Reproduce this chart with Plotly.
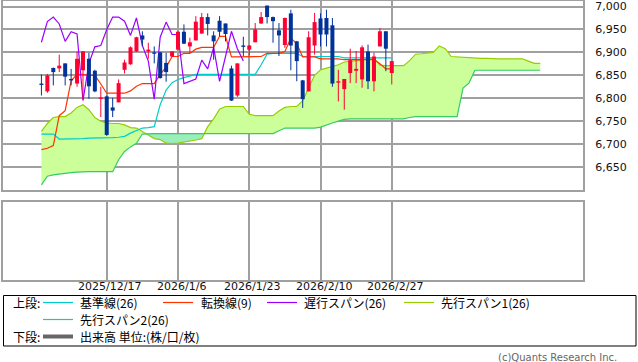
import plotly.graph_objects as go

# ---------------- data ----------------
tick_idx = [11, 23, 35, 47, 59]
tick_labels = ["2025/12/17", "2026/1/6", "2026/1/23", "2026/2/10", "2026/2/27"]
y_ticks = [6650, 6700, 6750, 6800, 6850, 6900, 6950, 7000]

open_ = [6832, 6815, 6866, 6865, 6876, 6842, 6832, 6861, 6886, 6860,
         6799, 6804, 6780, 6791, 6862, 6874, 6902, 6937, 6902, 6900,
         6900, 6877, 6891, 6906, 6945, 6913, 6926, 6941, 6977, 6937,
         6969, 6963, 6865, 6806, 6915, 6906, 6922, 6963, 7002, 6977,
         6948, 6916, 6985, 6924, 6839, 6815, 6915, 6974, 6975, 6959,
         6834, 6820, 6855, 6860, 6841, 6902, 6837, 6913, 6946, 6855]
high = [6852, 6853, 6867, 6895, 6876, 6864, 6902, 6903, 6899, 6862,
        6825, 6806, 6801, 6841, 6884, 6913, 6934, 6946, 6921, 6913,
        6901, 6899, 6903, 6946, 6961, 6932, 6979, 6986, 6985, 6946,
        6979, 6963, 6871, 6876, 6934, 6916, 6964, 6988, 7002, 6978,
        6964, 6976, 6993, 6925, 6840, 6946, 6986, 6985, 6993, 6975,
        6862, 6842, 6908, 6903, 6915, 6917, 6899, 6953, 6946, 6881]
low = [6806, 6812, 6828, 6857, 6828, 6828, 6825, 6797, 6799, 6813,
       6759, 6718, 6759, 6791, 6854, 6873, 6901, 6913, 6886, 6876,
       6843, 6836, 6890, 6905, 6918, 6899, 6926, 6941, 6937, 6884,
       6935, 6924, 6794, 6803, 6892, 6893, 6922, 6962, 6963, 6921,
       6892, 6910, 6861, 6837, 6779, 6815, 6895, 6913, 6913, 6825,
       6793, 6775, 6833, 6833, 6823, 6820, 6815, 6913, 6859, 6830]
close = [6829, 6850, 6857, 6871, 6847, 6839, 6886, 6902, 6826, 6815,
         6801, 6720, 6773, 6833, 6878, 6911, 6933, 6928, 6906, 6897,
         6844, 6857, 6902, 6945, 6919, 6922, 6967, 6977, 6962, 6924,
         6945, 6940, 6795, 6876, 6912, 6915, 6950, 6977, 6977, 6968,
         6937, 6975, 6915, 6881, 6798, 6933, 6966, 6939, 6939, 6832,
         6837, 6842, 6883, 6864, 6911, 6837, 6891, 6946, 6908, 6881]

# 転換線(9)
tenkan = [6688, 6691, 6697, 6762, 6773, 6838, 6852, 6852, 6850, 6850,
          6831, 6811, 6811, 6811, 6811, 6816, 6826, 6832, 6832, 6832,
          6852, 6868, 6891, 6891, 6898, 6898, 6907, 6911, 6911, 6911,
          6935, 6935, 6890, 6890, 6890, 6890, 6890, 6891, 6898, 6898,
          6898, 6902, 6931, 6919, 6890, 6890, 6890, 6886, 6886, 6886,
          6886, 6884, 6884, 6884, 6884, 6884, 6884, 6875, 6864, 6864]
# 基準線(26)
kijun = [6722, 6722, 6722, 6711, 6711, 6712, 6712, 6712, 6713, 6713,
         6713, 6714, 6714, 6715, 6717, 6724, 6730, 6735, 6736, 6738,
         6786, 6818, 6834, 6841, 6845, 6848, 6852, 6852, 6852, 6852,
         6852, 6852, 6852, 6852, 6852, 6852, 6852, 6873, 6896, 6898,
         6898, 6898, 6898, 6898, 6891, 6891, 6891, 6891, 6891, 6891,
         6891, 6888, 6888, 6888, 6888, 6888, 6888, 6888, 6888, 6888]
# 遅行スパン(26): closes plotted 25 bars back
lag_shift = 25
lagging = close[lag_shift:]
# 先行スパン1(26)
span1 = [6728, 6745, 6758, 6760, 6760, 6768, 6780, 6786, 6775, 6758,
         6750, 6746, 6745, 6745, 6742, 6736, 6735, 6728, 6720, 6712,
         6710, 6702, 6701, 6702, 6704, 6706, 6709, 6712, 6738, 6755,
         6776, 6782, 6782, 6782, 6782, 6765, 6762, 6762, 6762, 6762,
         6772, 6780, 6782, 6782, 6795, 6822, 6850, 6862, 6866, 6869,
         6873, 6879, 6881, 6882, 6882, 6888, 6888, 6872, 6871, 6871,
         6871, 6871, 6882, 6896, 6897, 6898, 6900, 6914, 6908, 6891,
         6890, 6889, 6888, 6888, 6887, 6887, 6886, 6886, 6886, 6886,
         6886, 6886, 6881, 6876, 6876]
# 先行スパン2(26)
span2 = [6611, 6630, 6633, 6635, 6637, 6638, 6639, 6640, 6640, 6640,
         6640, 6640, 6640, 6666, 6684, 6694, 6702, 6722, 6723, 6723,
         6723, 6723, 6723, 6723, 6723, 6723, 6723, 6723, 6723, 6723,
         6723, 6723, 6723, 6723, 6723, 6723, 6723, 6723, 6723, 6723,
         6729, 6735, 6735, 6735, 6735, 6735, 6735, 6737, 6742, 6746,
         6750, 6754, 6755, 6755, 6755, 6755, 6755, 6755, 6755, 6755,
         6755, 6755, 6758, 6760, 6760, 6760, 6760, 6760, 6760, 6760,
         6760, 6822, 6833, 6861, 6861, 6861, 6861, 6861, 6861, 6861,
         6861, 6861, 6861, 6861, 6861]

# ---------------- styles ----------------
W, H = 638, 362
C_UP, C_DN = "#ff0033", "#003399"
C_KIJUN, C_TENKAN, C_LAG = "#00cccc", "#ff3300", "#9900ff"
C_S1, C_S2 = "#99cc00", "#33cc66"
FILL_UP, FILL_DN = "#ccff99", "#99eebb"
GRID = "#a0a0a0"


def px(x):
    return x / W


def py(y):
    return 1 - y / H


fig = go.Figure()

# ---- cloud (split at crossings so each side gets its own colour) ----
cx = list(range(len(span1)))
X, A, B = [], [], []
for i in range(len(cx)):
    X.append(cx[i]); A.append(span1[i]); B.append(span2[i])
    if i < len(cx) - 1:
        d0 = span1[i] - span2[i]
        d1 = span1[i + 1] - span2[i + 1]
        if d0 * d1 < 0:
            t = d0 / (d0 - d1)
            yc = span1[i] + t * (span1[i + 1] - span1[i])
            X.append(cx[i] + t); A.append(yc); B.append(yc)
U = [max(a, b) for a, b in zip(A, B)]

common = dict(mode="lines", hoverinfo="skip", showlegend=False, line=dict(width=0))
fig.add_trace(go.Scatter(x=X, y=B, **common))
fig.add_trace(go.Scatter(x=X, y=U, fill="tonexty", fillcolor=FILL_UP, **common))
fig.add_trace(go.Scatter(x=X, y=A, **common))
fig.add_trace(go.Scatter(x=X, y=U, fill="tonexty", fillcolor=FILL_DN, **common))


# ---- lines ----
def line(x, y, color, w=1.2):
    fig.add_trace(go.Scatter(x=x, y=y, mode="lines", hoverinfo="skip", showlegend=False,
                             line=dict(color=color, width=w)))


line(cx, span1, C_S1)
line(cx, span2, C_S2)
n = len(close)
line(list(range(n)), kijun, C_KIJUN)
line(list(range(n)), tenkan, C_TENKAN)
line(list(range(len(lagging))), lagging, C_LAG)

# ---- candles (wicks + bodies as scatter segments so they sit above the cloud) ----
for up in (True, False):
    wx, wy, bx, by = [], [], [], []
    for i in range(n):
        if (close[i] >= open_[i]) == up:
            wx += [i, i, None]
            wy += [low[i], high[i], None]
            lo, hi = min(open_[i], close[i]), max(open_[i], close[i])
            if hi - lo < 3:
                mid = (hi + lo) / 2
                lo, hi = mid - 1.5, mid + 1.5
            bx += [i, i, None]
            by += [lo, hi, None]
    col = C_UP if up else C_DN
    fig.add_trace(go.Scatter(x=wx, y=wy, mode="lines", hoverinfo="skip", showlegend=False,
                             line=dict(color=col, width=1)))
    fig.add_trace(go.Scatter(x=bx, y=by, mode="lines", hoverinfo="skip", showlegend=False,
                             line=dict(color=col, width=4)))

# empty lower (volume) panel
fig.add_trace(go.Scatter(x=[0], y=[0.5], xaxis="x2", yaxis="y2", mode="markers",
                         marker=dict(opacity=0), hoverinfo="skip", showlegend=False))

# ---------------- layout ----------------
xr = [-6.47, 91.2]
xdom = [px(3), px(583)]
axis_line = dict(showline=True, mirror=True, linecolor=GRID, linewidth=2, zeroline=False)

fig.update_layout(
    width=W, height=H,
    margin=dict(l=0, r=0, t=0, b=0),
    paper_bgcolor="white", plot_bgcolor="white",
    showlegend=False,
    xaxis=dict(domain=xdom, range=xr, tickvals=tick_idx, showticklabels=False, ticks="",
               showgrid=True, gridcolor=GRID, gridwidth=1.5, anchor="y", **axis_line),
    yaxis=dict(domain=[py(190), py(1)], range=[6600, 7012], side="right", tickvals=y_ticks,
               tickformat=",d", ticks="", ticklabelstandoff=8,
               tickfont=dict(family="DejaVu Sans", size=11, color="#111"),
               showgrid=True, gridcolor=GRID, gridwidth=1.5, anchor="x", **axis_line),
    xaxis2=dict(domain=xdom, range=xr, tickvals=tick_idx, showticklabels=False, ticks="",
                showgrid=True, gridcolor=GRID, gridwidth=1.5, anchor="y2", **axis_line),
    yaxis2=dict(domain=[py(280), py(202)], range=[0, 1], showticklabels=False, ticks="",
                showgrid=False, anchor="x2", **axis_line),
)

# ---------------- x labels + legend (drawn as shapes + text) ----------------
shapes = [dict(type="rect", xref="paper", yref="paper", x0=px(3.5), x1=px(636), y0=py(346),
               y1=py(295.5), line=dict(color="#000", width=1), fillcolor="rgba(0,0,0,0)")]
ann = []
for tv, tl in zip(tick_idx, tick_labels):
    ann.append(dict(xref="x2", yref="paper", x=tv, y=py(286.5), text=tl, showarrow=False,
                    xanchor="center", yanchor="middle", xshift=3,
                    font=dict(family="DejaVu Sans", size=11, color="#111")))

JP = dict(family="Noto Sans CJK JP", size=12, color="#000")


def leg_line(x0, x1, y, color, w=1.2):
    shapes.append(dict(type="line", xref="paper", yref="paper", x0=px(x0), x1=px(x1),
                       y0=py(y), y1=py(y), line=dict(color=color, width=w)))


def leg_text(x, y, s, font=JP, anchor="left"):
    ann.append(dict(xref="paper", yref="paper", x=px(x), y=py(y), text=s, showarrow=False,
                    xanchor=anchor, yanchor="middle", font=font))


r1, r2, r3 = 302.5, 319.5, 336.5
leg_text(11, r1, "上段:")
leg_line(43, 73, r1, C_KIJUN); leg_text(78, r1, "基準線(26)")
leg_line(163, 193, r1, C_TENKAN); leg_text(199, r1, "転換線(9)")
leg_line(267, 297, r1, C_LAG); leg_text(302, r1, "遅行スパン(26)")
leg_line(404, 434, r1, C_S1); leg_text(439, r1, "先行スパン1(26)")
leg_line(43, 73, r2, C_S2); leg_text(78, r2, "先行スパン2(26)")
leg_text(11, r3, "下段:")
leg_line(43, 73, r3, "#666666", w=4); leg_text(78, r3, "出来高 単位:(株/口/枚)")
leg_text(619, 357.5, "(c)Quants Research Inc.",
         font=dict(family="DejaVu Sans", size=10, color="#666"), anchor="right")

fig.update_layout(shapes=shapes, annotations=ann)
fig.write_html("out.html")
